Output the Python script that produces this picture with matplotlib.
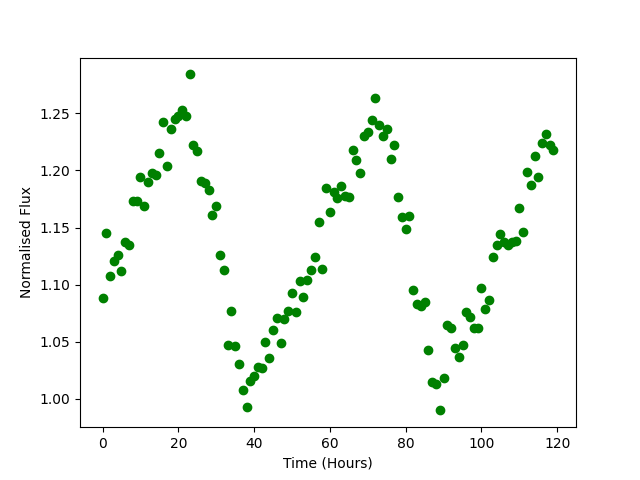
import numpy as np
import matplotlib
matplotlib.use('Agg')
import matplotlib.pyplot as plt

# hourly readings, time in hours
time = np.arange(120)

flux = [1.088, 1.145, 1.108, 1.121, 1.126, 1.112, 1.137, 1.135, 1.173, 1.173,
        1.194, 1.169, 1.190, 1.198, 1.196, 1.215, 1.242, 1.204, 1.236, 1.245,
        1.248, 1.253, 1.248, 1.284, 1.222, 1.217, 1.191, 1.189, 1.183, 1.161,
        1.169, 1.126, 1.113, 1.047, 1.077, 1.046, 1.031, 1.008, 0.993, 1.016,
        1.020, 1.028, 1.027, 1.050, 1.036, 1.060, 1.071, 1.049, 1.070, 1.077,
        1.093, 1.076, 1.103, 1.089, 1.104, 1.113, 1.124, 1.155, 1.114, 1.185,
        1.164, 1.181, 1.176, 1.186, 1.178, 1.177, 1.218, 1.209, 1.198, 1.230,
        1.234, 1.244, 1.263, 1.240, 1.230, 1.236, 1.210, 1.222, 1.177, 1.159,
        1.149, 1.160, 1.095, 1.083, 1.081, 1.085, 1.043, 1.015, 1.013, 0.990,
        1.018, 1.065, 1.062, 1.045, 1.037, 1.047, 1.076, 1.072, 1.062, 1.062,
        1.097, 1.079, 1.087, 1.124, 1.135, 1.144, 1.137, 1.135, 1.137, 1.138,
        1.167, 1.146, 1.199, 1.187, 1.213, 1.194, 1.224, 1.232, 1.222, 1.218]

plt.figure(figsize=(6.4, 4.8), dpi=100)
plt.plot(time, flux, 'o', color='green')
plt.xlabel('Time (Hours)')
plt.ylabel('Normalised Flux')
plt.savefig('out.png')
